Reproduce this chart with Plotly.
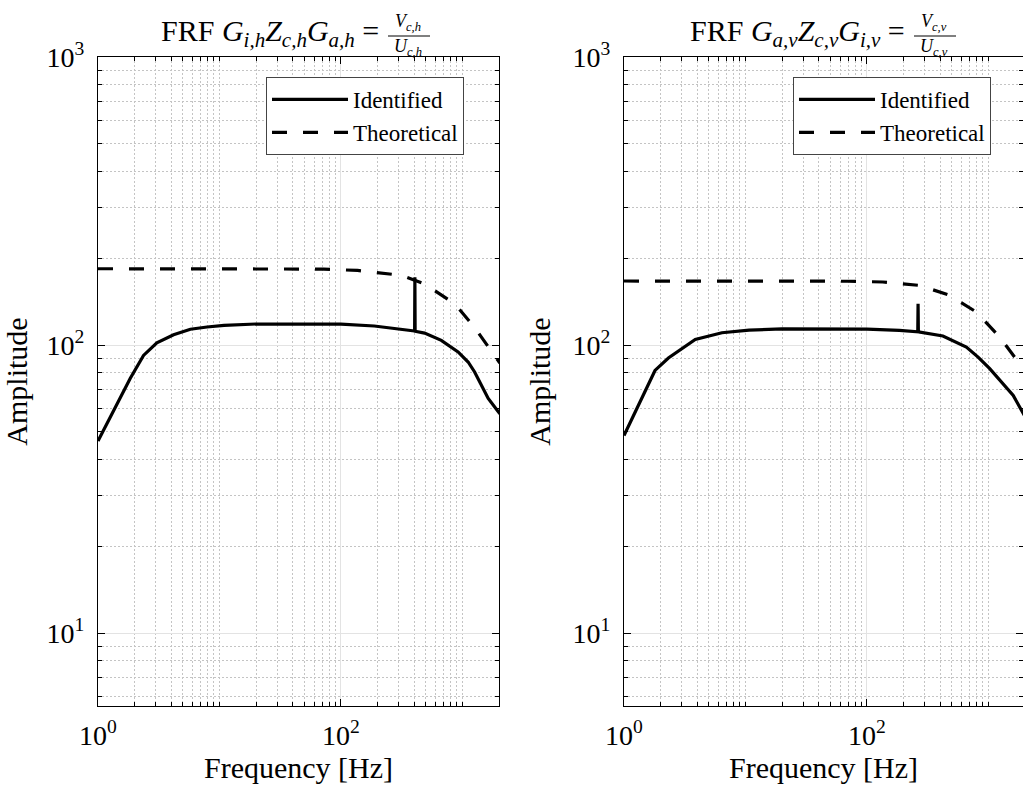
import numpy as np
import plotly.graph_objects as go

# ---------------- data ----------------
freq_id_h = [1.0, 1.84, 2.37, 3.05, 4.19, 5.76, 7.9, 10.9, 20, 50, 100, 188, 300, 404, 406, 408,
             488, 670, 921, 1114, 1260, 1630, 2033]
amp_id_h = [46.4, 76.5, 92.0, 101.8, 108.6, 113.4, 115.5, 117.0, 118.3, 118.3, 118.2, 116.4, 114.0,
            111.8, 172.0, 111.6, 110.0, 103.8, 94.6, 87.3, 80.6, 65.2, 57.7]

freq_th_h = [1.0, 10, 72, 137, 313, 488, 865, 1260, 1906, 2033]
amp_th_h = [184.0, 184.0, 183.5, 181.5, 174.6, 163.0, 139.0, 115.0, 89.6, 86.5]

freq_id_v = [1.0, 1.8, 2.32, 3.0, 3.86, 6.4, 10.7, 20, 50, 100, 185, 262, 263.5, 265, 422, 658, 822,
             1025, 1600, 1972]
amp_id_v = [48.5, 81.6, 90.1, 97.1, 104.6, 110.3, 112.7, 113.7, 113.7, 113.6, 112.4, 111.2, 139.0,
            111.1, 107.5, 98.4, 90.8, 82.8, 66.8, 57.0]

freq_th_v = [1.0, 10, 70, 135, 271, 479, 795, 1239, 1932]
amp_th_v = [166.8, 166.8, 166.5, 165.5, 161.0, 148.8, 130.2, 106.6, 82.8]

x_range = [1.0, 2000.0]
y_range = [5.58, 1000.0]
x_major = [1, 100]
x_major_text = ["10<sup>0</sup>", "10<sup>2</sup>"]
y_major = [10, 100, 1000]
y_major_text = ["10<sup>1</sup>", "10<sup>2</sup>", "10<sup>3</sup>"]

# ---------------- layout geometry ----------------
W, H = 1023, 789
ML, MR, MT, MB = 98, 0, 57, 83
PW, PH = W - ML - MR, H - MT - MB
left_px = (98, 499)
right_px = (624, 1023)


def dx(px):
    return (px - ML) / PW


def dy(py):
    return 1 - (py - MT) / PH


FONT = "Liberation Serif"
fig = go.Figure()

line_id = dict(color="black", width=3.2)
line_th = dict(color="black", width=3.2, dash="15px,16px")

fig.add_trace(go.Scatter(x=freq_id_h, y=amp_id_h, mode="lines", line=line_id, name="Identified",
                         xaxis="x", yaxis="y", legend="legend"))
fig.add_trace(go.Scatter(x=freq_th_h, y=amp_th_h, mode="lines", line=line_th, name="Theoretical",
                         xaxis="x", yaxis="y", legend="legend"))
fig.add_trace(go.Scatter(x=freq_id_v, y=amp_id_v, mode="lines", line=line_id, name="Identified",
                         xaxis="x2", yaxis="y2", legend="legend2"))
fig.add_trace(go.Scatter(x=freq_th_v, y=amp_th_v, mode="lines", line=line_th, name="Theoretical",
                         xaxis="x2", yaxis="y2", legend="legend2"))

lx0, lx1 = np.log10(x_range)
right_width = right_px[1] - right_px[0]
left_width = left_px[1] - left_px[0]
rx1 = lx0 + (lx1 - lx0) * right_width / left_width

minor_x = [m * 10 ** e for e in range(0, 4) for m in range(1, 10) if m * 10 ** e not in x_major]
minor_y = [m * 10 ** e for e in range(0, 3) for m in range(1, 10) if m * 10 ** e not in y_major]

TICK_SIZE = 28
common_ax = dict(
    type="log", showline=True, linecolor="black", linewidth=1.3, mirror="allticks",
    ticks="inside", ticklen=7, tickcolor="black", tickwidth=1.3, automargin=False,
    showgrid=True, gridcolor="#e3e3e3", gridwidth=1.2, zeroline=False,
    minor=dict(tickmode="array", tickvals=None, ticks="inside", ticklen=4, tickcolor="black",
               showgrid=True, gridcolor="#c4c4c4", griddash="1.5px,2.5px", gridwidth=1),
)


def xax(domain, rng):
    d = dict(common_ax)
    d["minor"] = dict(common_ax["minor"], tickvals=minor_x)
    d.update(domain=domain, range=rng, tickmode="array", tickvals=x_major, ticktext=x_major_text,
             ticklabelstandoff=4, tickfont=dict(family=FONT, size=TICK_SIZE, color="black"),
             title=dict(text="Frequency [Hz]", font=dict(family=FONT, size=30, color="black"), standoff=3))
    return d


def yax(anchor):
    d = dict(common_ax)
    d["minor"] = dict(common_ax["minor"], tickvals=minor_y)
    d.update(domain=[0, 1], range=list(np.log10(y_range)), tickmode="array", tickvals=y_major,
             ticktext=y_major_text, anchor=anchor, ticklabelstandoff=7,
             tickfont=dict(family=FONT, size=TICK_SIZE, color="black"),
             title=dict(text="Amplitude", font=dict(family=FONT, size=30, color="black"), standoff=12))
    return d


legend_common = dict(
    bgcolor="white", bordercolor="#444444", borderwidth=1,
    font=dict(family=FONT, size=23, color="black"),
    xanchor="left", yanchor="top", tracegroupgap=0, itemwidth=76,
)

fig.update_layout(
    width=W, height=H, margin=dict(l=ML, r=MR, t=MT, b=MB, autoexpand=False),
    paper_bgcolor="white", plot_bgcolor="white", showlegend=True,
    xaxis=xax([dx(left_px[0]), dx(left_px[1])], [lx0, lx1]),
    yaxis=yax("x"),
    xaxis2=xax([dx(right_px[0]), dx(right_px[1])], [lx0, rx1]),
    yaxis2=yax("x2"),
    legend=dict(legend_common, x=dx(266), y=dy(77)),
    legend2=dict(legend_common, x=dx(793), y=dy(77)),
)

# titles
title_font = dict(family=FONT, size=30, color="black")
frac_font = dict(family=FONT, size=18, color="black")
titles = [
    ("FRF <i>G</i><sub><i>i,h</i></sub><i>Z</i><sub><i>c,h</i></sub><i>G</i><sub><i>a,h</i></sub> =",
     "<i>V</i><sub><i>c,h</i></sub>", "<i>U</i><sub><i>c,h</i></sub>", 381),
    ("FRF <i>G</i><sub><i>a,v</i></sub><i>Z</i><sub><i>c,v</i></sub><i>G</i><sub><i>i,v</i></sub> =",
     "<i>V</i><sub><i>c,v</i></sub>", "<i>U</i><sub><i>c,v</i></sub>", 907),
]
for main, num, den, xr in titles:
    fig.add_annotation(text=main, xref="paper", yref="paper", x=dx(xr), y=dy(33),
                       xanchor="right", yanchor="middle", showarrow=False, font=title_font)
    fig.add_annotation(text=num, xref="paper", yref="paper", x=dx(xr + 27), y=dy(22),
                       xanchor="center", yanchor="middle", showarrow=False, font=frac_font)
    fig.add_annotation(text=den, xref="paper", yref="paper", x=dx(xr + 27), y=dy(47),
                       xanchor="center", yanchor="middle", showarrow=False, font=frac_font)
    fig.add_shape(type="line", xref="paper", yref="paper", x0=dx(xr + 7), x1=dx(xr + 49),
                  y0=dy(36), y1=dy(36), line=dict(color="black", width=1))

fig.write_html(
    "out.html",
    config={"displayModeBar": False},
    post_script="document.body.style.margin='0';document.body.style.overflow='hidden';",
)
